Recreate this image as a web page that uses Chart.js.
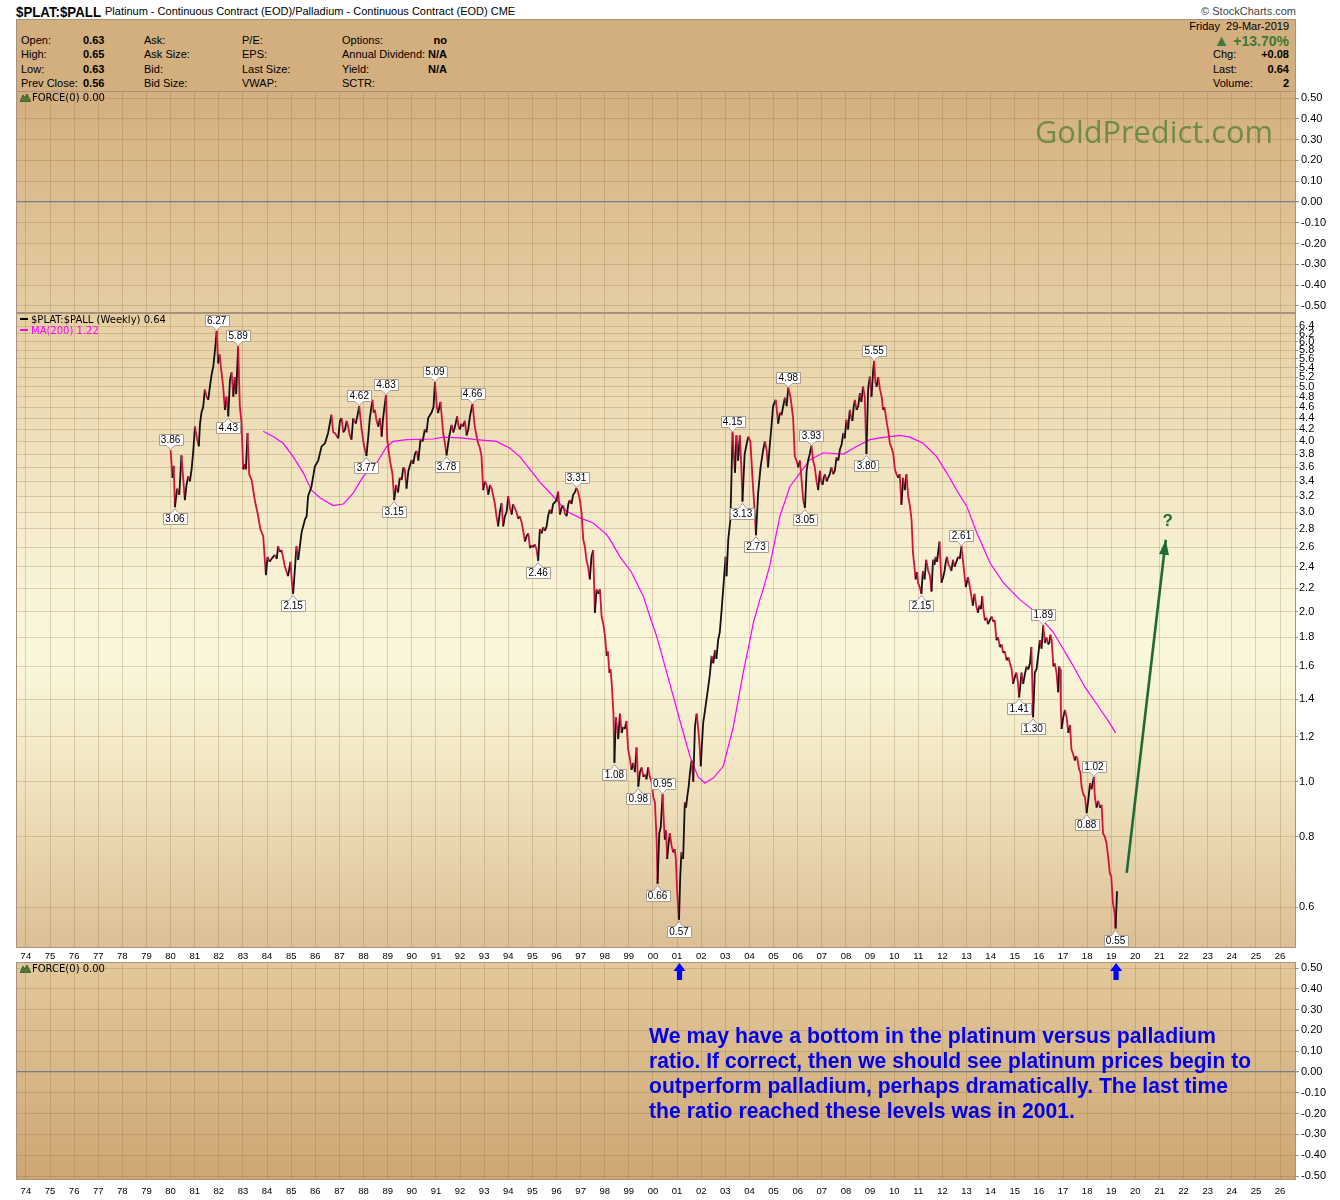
<!DOCTYPE html>
<html><head><meta charset="utf-8">
<script src="https://cdn.jsdelivr.net/npm/chart.js@4.4.1/dist/chart.umd.min.js"></script>
<style>
body{margin:0;background:#fff;}
#wrap{position:relative;width:1340px;height:1200px;overflow:hidden;font-family:'Liberation Sans',Arial,sans-serif;color:#000;}
.abs{position:absolute;white-space:nowrap;}
canvas{position:absolute;left:0;}
.t11{font-size:11px;line-height:13px;}
.b{font-weight:bold;}
.hdr{position:absolute;left:16px;top:19px;width:1280px;height:73px;background:#D3AE7F;border:1px solid #A8927C;box-sizing:border-box;}
.dv{font-family:'DejaVu Sans',Verdana,sans-serif;font-size:10px;line-height:12px;}
.ann{position:absolute;left:649px;top:1023px;color:#0000EE;font-family:'Liberation Sans Narrow','Arial Narrow','Liberation Sans',Arial,sans-serif;font-weight:bold;font-size:22px;line-height:25px;}
.fit{display:inline-block;transform-origin:0 0;white-space:nowrap;}
</style></head>
<body>
<div id="wrap">
  <div class="abs b" style="left:16px;top:3px;font-size:15px;line-height:17px;"><span class="fit" data-w="85">$PLAT:$PALL</span></div>
  <div class="abs t11" style="left:105px;top:5px;">Platinum - Continuous Contract (EOD)/Palladium - Continuous Contract (EOD) CME</div>
  <div class="abs t11" style="right:44px;top:5px;color:#444;">© StockCharts.com</div>
  <div class="hdr"></div>
  <div class="abs t11" style="left:21px;top:34px;">Open:</div>
  <div class="abs t11" style="left:21px;top:48px;">High:</div>
  <div class="abs t11" style="left:21px;top:63px;">Low:</div>
  <div class="abs t11" style="left:21px;top:77px;">Prev Close:</div>
  <div class="abs t11 b" style="left:83px;top:34px;">0.63</div>
  <div class="abs t11 b" style="left:83px;top:48px;">0.65</div>
  <div class="abs t11 b" style="left:83px;top:63px;">0.63</div>
  <div class="abs t11 b" style="left:83px;top:77px;">0.56</div>
  <div class="abs t11" style="left:144px;top:34px;">Ask:</div>
  <div class="abs t11" style="left:144px;top:48px;">Ask Size:</div>
  <div class="abs t11" style="left:144px;top:63px;">Bid:</div>
  <div class="abs t11" style="left:144px;top:77px;">Bid Size:</div>
  <div class="abs t11" style="left:242px;top:34px;">P/E:</div>
  <div class="abs t11" style="left:242px;top:48px;">EPS:</div>
  <div class="abs t11" style="left:242px;top:63px;">Last Size:</div>
  <div class="abs t11" style="left:242px;top:77px;">VWAP:</div>
  <div class="abs t11" style="left:342px;top:34px;">Options:</div>
  <div class="abs t11" style="left:342px;top:48px;">Annual Dividend:</div>
  <div class="abs t11" style="left:342px;top:63px;">Yield:</div>
  <div class="abs t11" style="left:342px;top:77px;">SCTR:</div>
  <div class="abs t11 b" style="right:893px;top:34px;">no</div>
  <div class="abs t11 b" style="right:893px;top:48px;">N/A</div>
  <div class="abs t11 b" style="right:893px;top:63px;">N/A</div>
  <div class="abs t11" style="right:51px;top:20px;">Friday&nbsp; 29-Mar-2019</div>
  <div class="abs b" style="right:51px;top:33px;font-size:14px;line-height:16px;color:#3B7A3B;"><span style="font-size:16px;">▲</span> +13.70%</div>
  <div class="abs t11" style="left:1213px;top:48px;">Chg:</div>
  <div class="abs t11" style="left:1213px;top:63px;">Last:</div>
  <div class="abs t11" style="left:1213px;top:77px;">Volume:</div>
  <div class="abs t11 b" style="right:51px;top:48px;">+0.08</div>
  <div class="abs t11 b" style="right:51px;top:63px;">0.64</div>
  <div class="abs t11 b" style="right:51px;top:77px;">2</div>

  <canvas id="cTop" width="1340" height="222" style="top:91px;width:1340px;height:222px;"></canvas>
  <canvas id="cMain" width="1340" height="649" style="top:313px;width:1340px;height:649px;"></canvas>
  <canvas id="cBot" width="1340" height="238" style="top:962px;width:1340px;height:238px;"></canvas>

  <div class="abs dv" style="left:20px;top:92px;"><svg width="11" height="9" style="vertical-align:-1px;margin-right:1px"><polygon points="0,9 3,2 5,5 7,1 11,9" fill="#4F7A3A" stroke="#2F4F22" stroke-width="0.8"/></svg>FORCE(0) 0.00</div>
  <div class="abs dv" style="left:20px;top:963px;"><svg width="11" height="9" style="vertical-align:-1px;margin-right:1px"><polygon points="0,9 3,2 5,5 7,1 11,9" fill="#4F7A3A" stroke="#2F4F22" stroke-width="0.8"/></svg>FORCE(0) 0.00</div>

  <div class="abs dv" style="left:20px;top:314px;"><span style="display:inline-block;width:8px;height:2px;background:#000;vertical-align:3px;margin-right:3px"></span>$PLAT:$PALL (Weekly) 0.64</div>
  <div class="abs dv" style="left:20px;top:325px;color:#FF00FF;"><span style="display:inline-block;width:8px;height:2px;background:#FF00FF;vertical-align:3px;margin-right:3px"></span>MA(200) 1.22</div>

  <div class="abs" style="left:1035px;top:116px;font-family:'Open Sans','Noto Sans',sans-serif;font-size:31px;line-height:31px;color:#6E8C48;"><span class="fit" data-w="238">GoldPredict.com</span></div>

  <div class="ann">
    <span class="fit" data-w="567">We may have a bottom in the platinum versus palladium</span><br>
    <span class="fit" data-w="602">ratio. If correct, then we should see platinum prices begin to</span><br>
    <span class="fit" data-w="579">outperform palladium, perhaps dramatically. The last time</span><br>
    <span class="fit" data-w="426">the ratio reached these levels was in 2001.</span>
  </div>
</div>

<script>
// ---------------- DATA ----------------
const yearTicks = [1974,1975,1976,1977,1978,1979,1980,1981,1982,1983,1984,1985,1986,1987,1988,1989,1990,1991,1992,1993,1994,1995,1996,1997,1998,1999,2000,2001,2002,2003,2004,2005,2006,2007,2008,2009,2010,2011,2012,2013,2014,2015,2016,2017,2018,2019,2020,2021,2022,2023,2024,2025,2026];
const ratioTicks = [6.4,6.2,6.0,5.8,5.6,5.4,5.2,5.0,4.8,4.6,4.4,4.2,4.0,3.8,3.6,3.4,3.2,3.0,2.8,2.6,2.4,2.2,2.0,1.8,1.6,1.4,1.2,1.0,0.8,0.6];
const forceTicks = [0.5,0.4,0.3,0.2,0.1,0,-0.1,-0.2,-0.3,-0.4,-0.5];

// [decimal year, $PLAT:$PALL weekly close]
const ratioWeekly = [
[1980.00,3.86],[1980.08,3.45],[1980.13,3.62],[1980.18,3.06],[1980.27,3.30],[1980.36,3.22],[1980.45,3.78],[1980.52,3.45],[1980.59,3.15],[1980.66,3.35],[1980.73,3.47],[1980.80,3.40],[1980.87,3.57],[1980.94,3.85],
[1981.01,4.25],[1981.09,4.05],[1981.17,3.92],[1981.22,4.30],[1981.28,4.50],[1981.35,4.60],[1981.42,4.94],[1981.49,4.80],[1981.56,4.74],[1981.63,5.00],[1981.70,5.25],[1981.77,5.43],[1981.84,5.80],[1981.91,6.27],[1981.97,5.50],
[1982.03,5.70],[1982.10,5.35],[1982.18,5.00],[1982.25,4.55],[1982.32,4.80],[1982.39,4.43],[1982.46,5.14],[1982.53,5.30],[1982.60,4.80],[1982.66,5.20],[1982.72,4.85],[1982.80,5.89],[1982.87,4.62],[1982.94,4.32],
[1983.01,3.57],[1983.08,3.65],[1983.12,3.57],[1983.19,4.14],[1983.26,3.50],[1983.36,3.42],[1983.49,3.15],[1983.63,2.95],[1983.72,2.80],[1983.84,2.72],[1983.95,2.32],
[1984.02,2.50],[1984.10,2.45],[1984.19,2.48],[1984.32,2.52],[1984.40,2.48],[1984.46,2.61],[1984.53,2.55],[1984.60,2.57],[1984.74,2.40],[1984.87,2.31],[1984.97,2.45],
[1985.03,2.25],[1985.08,2.15],[1985.22,2.61],[1985.29,2.47],[1985.43,2.76],[1985.57,2.91],[1985.64,2.95],[1985.70,3.20],[1985.84,3.33],[1985.98,3.61],
[1986.12,3.70],[1986.26,3.92],[1986.40,3.97],[1986.53,4.14],[1986.67,4.46],[1986.74,4.15],[1986.81,4.14],[1986.95,4.05],
[1987.02,4.35],[1987.09,4.40],[1987.16,4.15],[1987.23,4.20],[1987.30,4.35],[1987.36,4.25],[1987.43,4.10],[1987.50,4.03],[1987.57,4.40],[1987.68,4.30],[1987.75,4.45],[1987.82,4.62],[1987.92,4.20],
[1988.01,3.95],[1988.12,3.77],[1988.20,4.10],[1988.26,4.40],[1988.37,4.74],[1988.42,4.50],[1988.47,4.55],[1988.54,4.35],[1988.61,4.25],[1988.68,4.40],[1988.75,4.08],[1988.81,4.40],[1988.93,4.83],[1988.98,4.03],
[1989.09,3.71],[1989.20,3.50],[1989.27,3.15],[1989.35,3.35],[1989.43,3.25],[1989.50,3.45],[1989.58,3.42],[1989.65,3.60],[1989.71,3.57],[1989.78,3.30],[1989.86,3.55],[1989.99,3.71],
[1990.06,3.65],[1990.13,3.80],[1990.20,3.85],[1990.27,3.70],[1990.36,4.03],[1990.45,4.00],[1990.54,4.20],[1990.61,4.15],[1990.68,4.40],[1990.75,4.45],[1990.82,4.50],[1990.90,4.60],[1990.96,5.09],
[1991.04,4.60],[1991.09,4.49],[1991.19,4.70],[1991.30,4.14],[1991.36,4.00],[1991.41,3.87],[1991.44,3.78],[1991.55,4.08],[1991.65,4.28],[1991.72,4.15],[1991.79,4.25],[1991.88,4.43],[1991.94,4.25],[1991.99,4.20],
[1992.06,4.30],[1992.13,4.25],[1992.20,4.35],[1992.27,4.10],[1992.34,4.20],[1992.41,4.43],[1992.52,4.66],[1992.61,4.25],[1992.68,4.10],[1992.75,3.97],[1992.82,3.90],[1992.89,3.77],[1992.96,3.28],
[1993.03,3.40],[1993.10,3.35],[1993.17,3.22],[1993.24,3.35],[1993.31,3.30],[1993.38,3.20],[1993.44,3.11],[1993.51,2.95],[1993.58,2.83],[1993.65,3.00],[1993.72,3.11],[1993.79,2.83],[1993.86,2.95],[1993.93,3.00],
[1994.00,3.20],[1994.07,3.05],[1994.14,2.97],[1994.20,3.10],[1994.27,3.05],[1994.34,3.00],[1994.41,2.92],[1994.48,2.95],[1994.55,2.88],[1994.62,2.78],[1994.69,2.66],[1994.76,2.72],[1994.83,2.75],[1994.90,2.59],[1994.97,2.62],
[1995.03,2.60],[1995.10,2.63],[1995.17,2.58],[1995.24,2.46],[1995.31,2.80],[1995.38,2.75],[1995.45,2.82],[1995.52,2.78],[1995.59,2.83],[1995.65,2.95],[1995.72,3.03],[1995.79,2.98],[1995.86,3.10],[1995.93,3.12],
[1996.00,3.15],[1996.07,3.26],[1996.14,2.97],[1996.21,3.05],[1996.28,3.08],[1996.35,2.98],[1996.42,2.95],[1996.49,3.10],[1996.55,3.15],[1996.62,3.10],[1996.69,3.22],[1996.76,3.25],[1996.83,3.31],[1996.90,3.25],[1996.97,3.15],
[1997.04,2.99],[1997.11,2.68],[1997.18,2.60],[1997.24,2.47],[1997.31,2.40],[1997.38,2.28],[1997.45,2.50],[1997.52,2.57],[1997.59,1.99],[1997.66,2.19],[1997.73,2.15],[1997.80,2.19],[1997.87,1.96],[1997.94,1.90],
[1998.01,1.81],[1998.08,1.67],[1998.13,1.70],[1998.19,1.56],[1998.24,1.58],[1998.29,1.49],[1998.36,1.32],[1998.40,1.08],[1998.46,1.30],[1998.51,1.25],[1998.56,1.19],[1998.63,1.32],[1998.70,1.22],[1998.76,1.25],[1998.83,1.24],[1998.90,1.28],[1998.97,1.14],
[1999.04,1.10],[1999.11,1.05],[1999.18,1.08],[1999.25,1.04],[1999.32,1.15],[1999.39,0.98],[1999.46,1.04],[1999.53,1.06],[1999.60,1.02],[1999.66,1.03],[1999.73,1.01],[1999.80,1.06],[1999.87,1.02],[1999.94,1.00],
[2000.01,0.94],[2000.08,0.92],[2000.15,0.79],[2000.19,0.66],[2000.26,0.81],[2000.32,0.83],[2000.40,0.95],[2000.45,0.85],[2000.49,0.79],[2000.54,0.82],[2000.59,0.73],[2000.65,0.78],[2000.70,0.81],[2000.77,0.77],[2000.84,0.75],[2000.90,0.76],[2000.95,0.73],
[2001.00,0.64],[2001.08,0.57],[2001.13,0.68],[2001.18,0.75],[2001.25,0.73],[2001.32,0.92],[2001.37,0.90],[2001.42,0.94],[2001.48,0.98],[2001.53,1.035],[2001.60,1.09],[2001.67,1.00],[2001.74,1.25],[2001.81,1.32],[2001.87,1.25],[2001.94,1.15],[2001.98,1.065],
[2002.08,1.27],[2002.15,1.33],[2002.22,1.40],[2002.29,1.47],[2002.36,1.55],[2002.43,1.67],[2002.50,1.62],[2002.57,1.71],[2002.63,1.65],[2002.70,1.78],[2002.77,1.84],[2002.84,2.00],[2002.91,2.19],
[2003.01,2.50],[2003.05,2.31],[2003.12,2.68],[2003.21,2.91],[2003.30,4.15],[2003.35,3.80],[2003.40,3.52],[2003.46,4.10],[2003.53,3.70],[2003.60,4.10],[2003.67,3.55],[2003.71,3.13],[2003.80,3.80],[2003.88,3.95],[2003.95,4.08],
[2004.04,4.00],[2004.13,3.42],[2004.22,2.99],[2004.27,2.73],[2004.36,3.24],[2004.46,3.60],[2004.57,3.87],[2004.64,4.00],[2004.71,3.87],[2004.77,3.60],[2004.84,3.93],[2004.91,4.25],[2004.98,4.62],
[2005.09,4.74],[2005.19,4.30],[2005.26,4.50],[2005.33,4.45],[2005.40,4.62],[2005.47,4.78],[2005.54,4.62],[2005.61,4.98],[2005.70,4.80],[2005.81,4.40],[2005.88,3.76],[2005.95,3.70],
[2006.02,3.60],[2006.09,3.70],[2006.16,3.42],[2006.23,3.15],[2006.30,3.05],[2006.37,3.55],[2006.43,3.70],[2006.50,3.80],[2006.57,3.93],[2006.64,3.70],[2006.71,3.60],[2006.78,3.40],[2006.85,3.28],[2006.92,3.55],[2006.97,3.40],
[2007.03,3.35],[2007.08,3.45],[2007.13,3.50],[2007.20,3.40],[2007.26,3.45],[2007.33,3.50],[2007.40,3.60],[2007.47,3.50],[2007.54,3.55],[2007.61,3.75],[2007.68,3.70],[2007.75,3.87],[2007.82,3.95],[2007.89,4.14],[2007.95,4.05],
[2008.02,4.37],[2008.09,4.20],[2008.16,4.55],[2008.22,4.40],[2008.27,4.35],[2008.32,4.60],[2008.37,4.74],[2008.44,4.55],[2008.51,4.62],[2008.58,4.87],[2008.64,4.70],[2008.71,5.00],[2008.78,4.80],[2008.85,3.80],[2008.92,4.95],[2008.99,5.21],
[2009.06,4.80],[2009.13,5.35],[2009.17,5.55],[2009.22,5.10],[2009.27,5.00],[2009.34,5.20],[2009.41,4.95],[2009.48,4.80],[2009.54,4.55],[2009.60,4.60],[2009.65,4.45],[2009.70,4.30],[2009.75,4.19],[2009.82,3.97],[2009.89,3.90],[2009.96,3.81],
[2010.03,3.57],[2010.10,3.50],[2010.16,3.45],[2010.23,3.50],[2010.30,3.09],[2010.37,3.45],[2010.44,3.28],[2010.51,3.50],[2010.58,3.20],[2010.65,3.08],[2010.72,2.91],[2010.78,2.54],[2010.84,2.40],[2010.89,2.28],[2010.95,2.35],[2010.99,2.25],
[2011.06,2.21],[2011.13,2.15],[2011.19,2.36],[2011.26,2.28],[2011.33,2.47],[2011.41,2.36],[2011.48,2.32],[2011.55,2.17],[2011.61,2.47],[2011.67,2.42],[2011.72,2.50],[2011.78,2.45],[2011.82,2.54],[2011.88,2.66],[2011.96,2.25],
[2012.03,2.30],[2012.09,2.36],[2012.14,2.45],[2012.19,2.50],[2012.25,2.42],[2012.31,2.40],[2012.37,2.36],[2012.44,2.47],[2012.51,2.40],[2012.58,2.45],[2012.65,2.50],[2012.72,2.48],[2012.79,2.61],[2012.88,2.40],[2012.97,2.21],
[2013.06,2.30],[2013.13,2.22],[2013.20,2.13],[2013.26,2.05],[2013.33,2.15],[2013.40,2.05],[2013.47,1.99],[2013.54,2.05],[2013.60,2.02],[2013.65,2.13],[2013.71,2.00],[2013.76,1.93],[2013.83,1.95],[2013.89,1.90],[2013.96,1.93],
[2014.04,1.96],[2014.10,1.92],[2014.17,1.93],[2014.24,1.78],[2014.31,1.80],[2014.38,1.73],[2014.45,1.75],[2014.52,1.69],[2014.59,1.70],[2014.66,1.64],[2014.73,1.66],[2014.80,1.62],[2014.87,1.58],[2014.93,1.49],
[2015.00,1.53],[2015.07,1.56],[2015.13,1.50],[2015.18,1.41],[2015.23,1.48],[2015.28,1.56],[2015.35,1.49],[2015.42,1.55],[2015.49,1.60],[2015.56,1.58],[2015.63,1.62],[2015.69,1.73],[2015.76,1.30],[2015.83,1.56],[2015.90,1.58],[2015.97,1.67],
[2016.04,1.78],[2016.11,1.72],[2016.18,1.89],[2016.25,1.76],[2016.32,1.80],[2016.38,1.75],[2016.43,1.76],[2016.48,1.82],[2016.53,1.78],[2016.60,1.60],[2016.66,1.62],[2016.73,1.56],[2016.80,1.44],[2016.84,1.60],[2016.88,1.58],[2016.91,1.36],[2016.94,1.24],
[2017.01,1.30],[2017.08,1.34],[2017.15,1.30],[2017.22,1.22],[2017.29,1.26],[2017.35,1.14],[2017.42,1.12],[2017.49,1.09],[2017.54,1.11],[2017.59,1.10],[2017.67,1.05],[2017.72,1.04],[2017.77,0.98],[2017.84,0.95],[2017.91,0.94],[2017.98,0.88],
[2018.05,0.93],[2018.12,0.995],[2018.18,0.97],[2018.28,1.02],[2018.32,0.94],[2018.39,0.90],[2018.46,0.925],[2018.53,0.90],[2018.60,0.91],[2018.66,0.81],[2018.73,0.80],[2018.80,0.78],[2018.87,0.738],[2018.94,0.689],
[2019.00,0.68],[2019.07,0.61],[2019.14,0.586],[2019.18,0.55],[2019.24,0.64]
];

// [decimal year, 200-week moving average]
const ma200 = [
[1983.84,4.17],[1984.25,4.08],[1984.67,3.97],[1985.08,3.76],[1985.50,3.52],[1985.84,3.28],[1986.19,3.18],[1986.74,3.08],[1987.16,3.10],[1987.57,3.24],[1987.99,3.47],[1988.54,3.66],[1988.96,3.92],[1989.23,4.00],[1989.79,4.03],[1990.89,4.04],
[1991.30,4.07],[1992.00,4.06],[1992.68,4.03],[1993.51,4.00],[1994.07,3.89],[1994.48,3.76],[1994.90,3.57],[1995.31,3.39],[1995.86,3.20],[1996.42,3.01],[1996.97,2.93],[1997.52,2.87],[1998.07,2.74],[1998.27,2.66],[1998.63,2.50],
[1999.10,2.35],[1999.60,2.13],[1999.87,1.96],[2000.15,1.81],[2000.70,1.49],[2001.10,1.29],[2001.53,1.11],[2001.87,1.02],[2002.15,0.995],[2002.50,1.015],[2002.91,1.064],[2003.33,1.25],[2003.74,1.56],[2004.02,1.78],[2004.16,1.91],
[2004.43,2.10],[2004.57,2.19],[2004.85,2.42],[2005.26,2.95],[2005.68,3.33],[2006.10,3.52],[2006.50,3.71],[2007.06,3.82],[2007.89,3.80],[2008.44,3.92],[2008.99,4.03],[2009.41,4.06],[2009.82,4.08],[2010.24,4.10],[2010.65,4.07],
[2011.20,3.97],[2011.76,3.76],[2012.18,3.52],[2012.59,3.28],[2013.01,3.07],[2013.42,2.76],[2013.97,2.44],[2014.52,2.25],[2015.21,2.10],[2015.90,1.99],[2016.59,1.84],[2017.36,1.62],[2017.91,1.47],[2018.46,1.36],[2018.88,1.28],[2019.18,1.22]
];

// annotated turning points: [decimal year, value, +1 above / -1 below]
const peakLabels = [
[1980.00,3.86,1],[1980.18,3.06,-1],[1981.91,6.27,1],[1982.39,4.43,-1],[1982.80,5.89,1],[1985.08,2.15,-1],[1987.82,4.62,1],[1988.12,3.77,-1],[1988.93,4.83,1],[1989.27,3.15,-1],
[1990.96,5.09,1],[1991.44,3.78,-1],[1992.52,4.66,1],[1995.24,2.46,-1],[1996.83,3.31,1],[1998.40,1.08,-1],[1999.39,0.98,-1],[2000.19,0.66,-1],[2000.40,0.95,1],[2001.08,0.57,-1],
[2003.30,4.15,1],[2003.71,3.13,-1],[2004.27,2.73,-1],[2005.61,4.98,1],[2006.30,3.05,-1],[2006.57,3.93,1],[2008.85,3.80,-1],[2009.17,5.55,1],[2011.13,2.15,-1],[2012.79,2.61,1],
[2015.18,1.41,-1],[2015.76,1.30,-1],[2016.18,1.89,1],[2017.98,0.88,-1],[2018.28,1.02,1],[2019.18,0.55,-1]
];

const forecastArrow = [[2019.64,0.69],[2021.26,2.68]];
const bottomMarks = [2001.1, 2019.2];

// ---------------- LAYOUT / STYLE ----------------
const X_MIN = 1973.59, X_MAX = 2026.66;
const GRID = 'rgba(140,100,55,0.25)';
const FONT = "'Liberation Sans', Arial, sans-serif";

function zeroPad(s){ s.paddingLeft=0; s.paddingRight=0; s.paddingTop=0; s.paddingBottom=0; }
const yy = v => String(Math.round(v)%100).padStart(2,'0');

const panelBg = {
  id:'panelBg',
  beforeDraw(chart, args, opts){
    const {ctx, chartArea:a} = chart;
    const g = ctx.createLinearGradient(0,a.top,0,a.bottom);
    opts.stops.forEach(s=>g.addColorStop(s[0],s[1]));
    ctx.save(); ctx.fillStyle=g; ctx.fillRect(a.left,a.top,a.right-a.left,a.bottom-a.top); ctx.restore();
  },
  afterDraw(chart){
    const {ctx, chartArea:a} = chart;
    ctx.save(); ctx.strokeStyle='#A8927C'; ctx.lineWidth=1;
    ctx.strokeRect(Math.round(a.left)+0.5, Math.round(a.top)+0.5, Math.round(a.right-a.left)-1, Math.round(a.bottom-a.top)-1);
    ctx.restore();
  }
};

function xScale(showLabels, h, pad){
  return {
    type:'linear', min:X_MIN, max:X_MAX, bounds:'data',
    afterBuildTicks:s=>{ s.ticks = yearTicks.map(v=>({value:v})); },
    afterFit:s=>{ s.height=h; zeroPad(s); },
    grid:{color:GRID, drawTicks:false, lineWidth:1},
    border:{display:false},
    ticks:{display:showLabels, autoSkip:false, maxRotation:0, padding:pad, color:'#000', font:{family:FONT,size:9.5}, callback:v=>yy(v)}
  };
}

function forceChart(id, ymin, ymax, showX, stops, extra){
  return new Chart(document.getElementById(id), {
    type:'line',
    data:{datasets:[{data:[], borderWidth:0, pointRadius:0}]},
    options:{
      responsive:false, animation:false, devicePixelRatio:1,
      layout:{padding:{left:16,right:0,top:0,bottom:0}},
      plugins:{legend:{display:false}, tooltip:{enabled:false}, panelBg:{stops}},
      scales:{
        x: xScale(showX, showX?20:0, 6),
        y:{
          type:'linear', position:'right', min:ymin, max:ymax, bounds:'data',
          afterBuildTicks:s=>{ s.ticks = forceTicks.map(v=>({value:v})); },
          afterFit:s=>{ s.width=44; zeroPad(s); },
          grid:{color:c=>(c.tick && Math.abs(c.tick.value)<1e-9)?'#6F7E8C':GRID, lineWidth:c=>(c.tick && Math.abs(c.tick.value)<1e-9)?1.3:1, tickColor:'#A8927C', tickLength:3},
          border:{display:false},
          ticks:{autoSkip:false, padding:2, color:'#000', font:{family:FONT,size:11}, callback:v=>Number(v).toFixed(2)}
        }
      }
    },
    plugins:[panelBg].concat(extra||[])
  });
}

forceChart('cTop', -0.534, 0.534, false, [[0,'#D4AF7F'],[1,'#E5CEA3']]);

const blueArrows = {
  id:'blueArrows',
  afterDatasetsDraw(chart){
    const {ctx, chartArea:a, scales:{x}} = chart;
    ctx.save(); ctx.fillStyle='#0000FF';
    bottomMarks.forEach(d=>{
      const cx = x.getPixelForValue(d), t = a.top+1;
      ctx.beginPath();
      ctx.moveTo(cx,t); ctx.lineTo(cx+6,t+8); ctx.lineTo(cx+2.6,t+8); ctx.lineTo(cx+2.6,t+17);
      ctx.lineTo(cx-2.6,t+17); ctx.lineTo(cx-2.6,t+8); ctx.lineTo(cx-6,t+8); ctx.closePath(); ctx.fill();
    });
    ctx.restore();
  }
};
forceChart('cBot', -0.519, 0.529, true, [[0,'#E3C89C'],[1,'#CEA674']], [blueArrows]);

const peakTags = {
  id:'peakTags',
  afterDatasetsDraw(chart){
    const {ctx, scales:{x,y}} = chart;
    ctx.save();
    ctx.font = "10px " + FONT; ctx.textAlign='center'; ctx.textBaseline='middle';
    peakLabels.forEach(([d,v,dir])=>{
      const px = x.getPixelForValue(d), py = y.getPixelForValue(v);
      const txt = v.toFixed(2);
      const w = Math.round(ctx.measureText(txt).width)+5, h = 11;
      const l = Math.round(px - w/2)+0.5;
      ctx.beginPath();
      let by;
      if(dir>0){
        by = Math.round(py - 5 - h)+0.5;
        ctx.moveTo(l,by); ctx.lineTo(l+w,by); ctx.lineTo(l+w,by+h); ctx.lineTo(px+4,by+h); ctx.lineTo(px,py-0.5); ctx.lineTo(px-4,by+h); ctx.lineTo(l,by+h);
      } else {
        by = Math.round(py + 6)+0.5;
        ctx.moveTo(l,by); ctx.lineTo(px-4,by); ctx.lineTo(px,py+1.5); ctx.lineTo(px+4,by); ctx.lineTo(l+w,by); ctx.lineTo(l+w,by+h); ctx.lineTo(l,by+h);
      }
      ctx.closePath();
      ctx.fillStyle='#FFFFFF'; ctx.fill();
      ctx.strokeStyle='#A99C90'; ctx.lineWidth=1; ctx.stroke();
      ctx.fillStyle='#000'; ctx.fillText(txt, px, by+h/2+0.5);
    });
    ctx.restore();
  }
};

const arrowHead = {
  id:'arrowHead',
  afterDatasetsDraw(chart){
    const meta = chart.getDatasetMeta(2);
    const p0 = meta.data[0], p1 = meta.data[meta.data.length-1];
    const {ctx} = chart;
    const dx = p1.x-p0.x, dy = p1.y-p0.y, L = Math.hypot(dx,dy);
    const ux = dx/L, uy = dy/L, nx = -uy, ny = ux;
    const bx = p1.x - ux*15, by = p1.y - uy*15;
    ctx.save(); ctx.fillStyle='#1F6B35';
    ctx.beginPath(); ctx.moveTo(p1.x,p1.y); ctx.lineTo(bx+nx*5,by+ny*5); ctx.lineTo(bx-nx*5,by-ny*5); ctx.closePath(); ctx.fill();
    ctx.font = "bold 17px " + FONT; ctx.textAlign='center'; ctx.textBaseline='middle';
    ctx.fillText('?', p1.x+2, p1.y-18);
    ctx.restore();
  }
};

new Chart(document.getElementById('cMain'), {
  type:'line',
  data:{datasets:[
    {data: ratioWeekly.map(p=>({x:p[0],y:p[1]})), borderWidth:1.8, pointRadius:0, borderColor:'#D4123C',
     segment:{borderColor:c=> c.p1.parsed.y > c.p0.parsed.y ? '#111111' : '#D4123C'}},
    {data: ma200.map(p=>({x:p[0],y:p[1]})), borderWidth:1.2, pointRadius:0, borderColor:'#FF00FF'},
    {data: forecastArrow.map(p=>({x:p[0],y:p[1]})), borderWidth:2.6, pointRadius:0, borderColor:'#1F6B35'}
  ]},
  options:{
    responsive:false, animation:false, devicePixelRatio:1,
    layout:{padding:{left:16,right:0,top:0,bottom:0}},
    plugins:{legend:{display:false}, tooltip:{enabled:false},
      panelBg:{stops:[[0,'#E6CFA2'],[0.42,'#F8F3D6'],[0.55,'#FAF7DB'],[0.72,'#F1E6C2'],[1,'#DCBF94']]}},
    scales:{
      x: xScale(true, 14, 3),
      y:{
        type:'logarithmic', position:'right', min:0.508, max:6.75, bounds:'data',
        afterBuildTicks:s=>{ s.ticks = ratioTicks.map(v=>({value:v})); },
        afterFit:s=>{ s.width=44; zeroPad(s); },
        grid:{color:GRID, tickColor:'#A8927C', tickLength:2},
        border:{display:false},
        ticks:{autoSkip:false, padding:1, color:'#000', font:{family:FONT,size:11}, callback:v=>Number(v).toFixed(1)}
      }
    }
  },
  plugins:[panelBg, peakTags, arrowHead]
});

// fit text runs to their measured widths in the reference
document.querySelectorAll('.fit').forEach(sp=>{
  const t = +sp.dataset.w, w = sp.getBoundingClientRect().width;
  if(w>0) sp.style.transform = 'scaleX(' + (t/w) + ')';
});
</script>
</body></html>
